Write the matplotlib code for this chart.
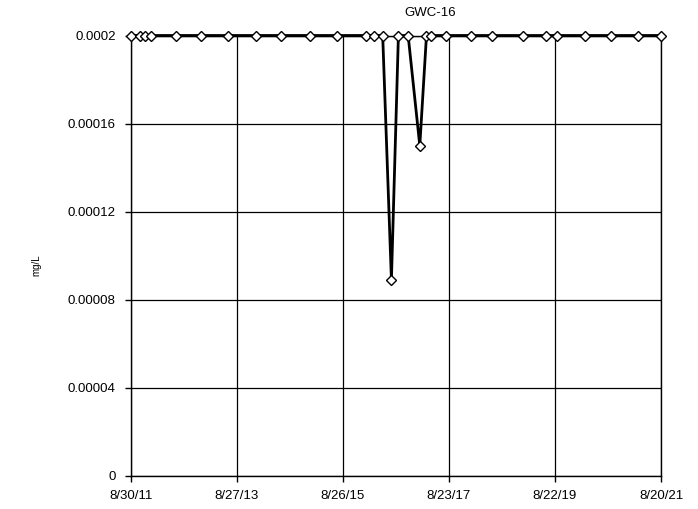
import matplotlib
matplotlib.use('Agg')
import matplotlib.pyplot as plt
import numpy as np

plt.rcParams['font.family'] = ['Liberation Sans', 'DejaVu Sans']

# ── Data ──────────────────────────────────────────────────────────────────────
dates = ['2011-08-30', '2011-10-29', '2011-12-02', '2012-01-17', '2012-07-07',
         '2012-12-26', '2013-06-27', '2014-01-04', '2014-06-24', '2015-01-09',
         '2015-07-16', '2016-01-28', '2016-03-26', '2016-05-25', '2016-07-24',
         '2016-09-10', '2016-11-16', '2017-02-04', '2017-03-22', '2017-04-25',
         '2017-08-06', '2018-01-25', '2018-06-15', '2019-01-15', '2019-06-24',
         '2019-09-08', '2020-03-18', '2020-09-08', '2021-03-15', '2021-08-20']
values = [0.0002, 0.0002, 0.0002, 0.0002, 0.0002,
          0.0002, 0.0002, 0.0002, 0.0002, 0.0002,
          0.0002, 0.0002, 0.0002, 0.0002, 0.000089,
          0.0002, 0.0002, 0.00015, 0.0002, 0.0002,
          0.0002, 0.0002, 0.0002, 0.0002, 0.0002,
          0.0002, 0.0002, 0.0002, 0.0002, 0.0002]
tick_dates = ['2011-08-30', '2013-08-27', '2015-08-26',
              '2017-08-23', '2019-08-22', '2021-08-20']
tick_labels = ['8/30/11', '8/27/13', '8/26/15', '8/23/17', '8/22/19', '8/20/21']
y_ticks = [0, 0.00004, 0.00008, 0.00012, 0.00016, 0.0002]
y_labels = ['0', '0.00004', '0.00008', '0.00012', '0.00016', '0.0002']

x = np.array(dates, dtype='datetime64[D]')
xt = np.array(tick_dates, dtype='datetime64[D]')

# ── Figure ────────────────────────────────────────────────────────────────────
W, H = 698, 509
L, R, T, B = 131, 661, 35.5, 476
fig = plt.figure(figsize=(W / 100, H / 100), dpi=100)
ax = fig.add_axes([L / W, 1 - B / H, (R - L) / W, (B - T) / H])

ax.plot(x, values, color='black', lw=2.0, marker='D', ms=5.5,
        mfc='white', mec='black', mew=1.0, zorder=4, clip_on=False)

ax.set_xlim(xt[0], xt[-1])
ax.set_ylim(0, 0.0002)
ax.set_xticks(xt)
ax.set_xticklabels(tick_labels)
ax.set_yticks(y_ticks)
ax.set_yticklabels(y_labels)
ax.grid(True, color='black', lw=0.9)
ax.set_axisbelow(True)
ax.tick_params(axis='both', direction='out', length=4, width=1,
               labelsize=9.5, colors='black')
ax.tick_params(axis='x', pad=6)
ax.tick_params(axis='y', pad=7)
for s in ax.spines.values():
    s.set_color('black')
    s.set_linewidth(1.0)

fig.text(430 / W, 1 - 13 / H, 'GWC-16', ha='center', va='center', fontsize=9.5)
fig.text(36 / W, 1 - 265 / H, 'mg/L', ha='center', va='center',
         rotation=90, fontsize=7)

fig.savefig('out.png', dpi=100, facecolor='white')
